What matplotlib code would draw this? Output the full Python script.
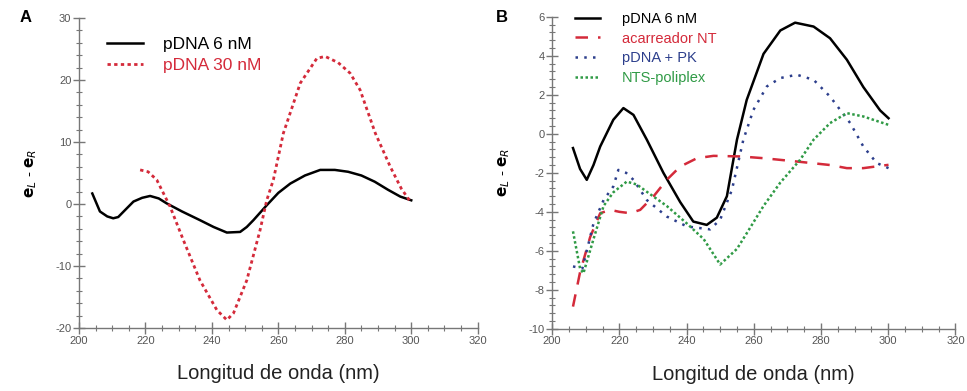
import matplotlib.pyplot as plt
from matplotlib.ticker import MultipleLocator

# Panel A: pDNA at two concentrations
a_wl_6 = [204, 206.3, 208.5, 210.3, 211.8, 214, 216.4, 219, 221.4, 224, 226.4, 231, 236.4, 240.5,
          244.5, 248.5, 250.5, 252.5, 256.5, 260, 263.6, 268, 272.6, 277, 281, 285, 289, 293, 296.7, 300]
a_cd_6 = [1.7, -1.2, -2.0, -2.3, -2.1, -0.9, 0.4, 1.0, 1.3, 0.9, 0.1, -1.2, -2.6, -3.7,
          -4.6, -4.5, -3.7, -2.6, -0.2, 1.8, 3.3, 4.6, 5.5, 5.5, 5.2, 4.6, 3.6, 2.3, 1.2, 0.6]

a_wl_30 = [218.4, 220.8, 223.4, 227.4, 231.4, 236.4, 241.5, 244.5, 246.5, 250.5, 254.5, 256.5,
           258.5, 261.5, 266.6, 271.6, 274.1, 278, 281.6, 284.6, 289.2, 293.7, 297, 299.7]
a_cd_30 = [5.5, 5.2, 3.9, -0.4, -5.8, -12.3, -17.1, -18.7, -17.6, -12.3, -4.2, 0.6,
           3.9, 11.4, 19.5, 23.5, 23.8, 22.8, 21.1, 18.4, 11.4, 6.0, 2.5, 0.4]

# Panel B: pDNA, carrier, pDNA + PK, polyplex
b_wl_dna = [206.2, 208.3, 210.3, 212.3, 214.3, 218.2, 221.2, 224.2, 228.2, 233.1, 238.1, 242, 246,
            249, 252, 255, 257.9, 262.9, 267.9, 272.3, 277.8, 282.7, 287.7, 292.6, 297.6, 300.1]
b_cd_dna = [-0.73, -1.8, -2.36, -1.6, -0.65, 0.72, 1.32, 0.97, -0.31, -2.0, -3.5, -4.5, -4.67,
            -4.3, -3.2, -0.3, 1.74, 4.1, 5.3, 5.7, 5.5, 4.9, 3.8, 2.4, 1.2, 0.8]

b_wl_nt = [206.2, 208.3, 211.3, 214.3, 217.3, 220, 223.2, 226.2, 230.2, 234.1, 238.1, 243.1, 248,
           256, 262.9, 272.8, 282.7, 287.7, 292.6, 300.1]
b_cd_nt = [-8.86, -7.1, -5.3, -4.07, -3.9, -4.0, -4.07, -3.9, -3.2, -2.36, -1.68, -1.25, -1.13,
           -1.16, -1.25, -1.42, -1.6, -1.76, -1.76, -1.59]

b_wl_pk = [206.2, 209, 212.3, 215.3, 218.2, 219.7, 222, 224.2, 228.2, 234.1, 240.1, 247, 250, 253.5,
           256.9, 259.9, 263.9, 267.9, 272.8, 277.8, 282.7, 285.7, 288.7, 292.6, 296.6, 300.1]
b_cd_pk = [-6.8, -6.9, -4.6, -3.4, -2.7, -1.85, -2.0, -2.36, -3.4, -4.24, -4.75, -4.9, -4.4, -2.87,
           -0.3, 1.23, 2.43, 2.86, 3.03, 2.77, 1.91, 1.23, 0.55, -0.65, -1.5, -1.76]

b_wl_nts = [206.2, 208.3, 209.3, 212.3, 215.3, 218.2, 222.2, 225.2, 229.2, 234.1, 240.1, 245.1, 250,
            255, 257.9, 262.9, 267.9, 273.8, 277.8, 282.7, 287.7, 292.6, 300.1]
b_cd_nts = [-5.0, -6.9, -7.15, -5.4, -3.7, -3.0, -2.45, -2.6, -3.1, -3.7, -4.6, -5.4, -6.7,
            -5.9, -5.1, -3.7, -2.5, -1.33, -0.3, 0.55, 1.06, 0.89, 0.46]

x_label = "Longitud de onda (nm)"
y_label = r"$\mathbf{e}_{L}$ - $\mathbf{e}_{R}$"

RED = "#d42a3a"
BLUE = "#2c3e8c"
GREEN = "#2f9a45"
AXIS_GRAY = "#777777"

plt.rcParams["font.family"] = ["Liberation Sans", "DejaVu Sans"]
plt.rcParams["axes.unicode_minus"] = False

fig = plt.figure(figsize=(9.67, 3.91), dpi=100)
ax_a = fig.add_axes([0.0817, 0.161, 0.4123, 0.793])
ax_b = fig.add_axes([0.571, 0.159, 0.417, 0.798])


def style_axis(ax, ymin, ymax, ymaj, ymin_step):
    ax.set_xlim(200, 320)
    ax.set_ylim(ymin, ymax)
    ax.xaxis.set_major_locator(MultipleLocator(20))
    ax.xaxis.set_minor_locator(MultipleLocator(5))
    ax.yaxis.set_major_locator(MultipleLocator(ymaj))
    ax.yaxis.set_minor_locator(MultipleLocator(ymin_step))
    for side in ("top", "right"):
        ax.spines[side].set_visible(False)
    for side in ("left", "bottom"):
        ax.spines[side].set_color(AXIS_GRAY)
        ax.spines[side].set_linewidth(1.0)
    ax.tick_params(which="major", direction="inout", length=9, width=1.0, color=AXIS_GRAY,
                   labelsize=8, labelcolor="#555555", pad=1)
    ax.tick_params(which="minor", direction="inout", length=5, width=0.8, color=AXIS_GRAY)
    ax.set_xlabel(x_label, fontsize=14.5, color="#222222", labelpad=13)
    ax.set_ylabel(y_label, fontsize=11, labelpad=12)


style_axis(ax_a, -20, 30, 10, 2)
style_axis(ax_b, -10, 6, 2, 0.4)

# Panel A
ax_a.plot(a_wl_6, a_cd_6, color="black", lw=1.8, label="pDNA 6 nM")
ax_a.plot(a_wl_30, a_cd_30, color=RED, lw=2.0, ls=(0, (1.2, 1.2)), label="pDNA 30 nM")
leg_a = ax_a.legend(loc="upper left", bbox_to_anchor=(0.1107, 0.906), bbox_transform=fig.transFigure,
                    frameon=False, fontsize=12.5, borderpad=0, borderaxespad=0,
                    handlelength=2.07, handletextpad=1.15, labelspacing=0.32)
for text, col in zip(leg_a.get_texts(), ["black", RED]):
    text.set_color(col)

# Panel B
ax_b.plot(b_wl_dna, b_cd_dna, color="black", lw=1.8, label="pDNA 6 nM")
ax_b.plot(b_wl_nt, b_cd_nt, color=RED, lw=1.8, ls=(0, (5, 4)), label="acarreador NT")
ax_b.plot(b_wl_pk, b_cd_pk, color=BLUE, lw=1.8, ls=(0, (1, 2.5)), label="pDNA + PK")
ax_b.plot(b_wl_nts, b_cd_nts, color=GREEN, lw=1.8, ls=(0, (1, 1)), label="NTS-poliplex")
leg_b = ax_b.legend(loc="upper left", bbox_to_anchor=(0.5946, 0.97), bbox_transform=fig.transFigure,
                    frameon=False, fontsize=10.5, borderpad=0, borderaxespad=0,
                    handlelength=1.7, handletextpad=1.5, labelspacing=0.4)
for text, col in zip(leg_b.get_texts(), ["black", RED, BLUE, GREEN]):
    text.set_color(col)

fig.text(0.02, 0.945, "A", fontsize=12, fontweight="bold")
fig.text(0.513, 0.945, "B", fontsize=12, fontweight="bold")

fig.savefig("out.png", dpi=100)
